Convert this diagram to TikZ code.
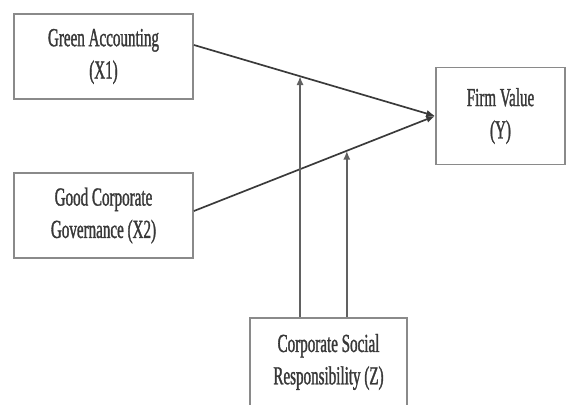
\documentclass[tikz,border=0pt]{standalone}
\usepackage{fontspec}
\setmainfont{Liberation Serif}[FakeStretch=0.58,FakeBold=1.2]
\usetikzlibrary{arrows.meta,calc,positioning}
\definecolor{mdgray}{HTML}{8A8A8A}
\definecolor{mdline}{HTML}{3A3A3A}
\definecolor{mdtext}{HTML}{383838}

\begin{document}
\begin{tikzpicture}[x=0.025cm,y=-0.025cm,
 varbox/.style={draw=mdgray,line width=1.3pt,align=center,inner sep=0pt,text=mdtext,
   font=\fontsize{18.5}{23}\selectfont},
 patharrow/.style={-{Latex[length=2.2mm,width=1.8mm]},line width=1.2pt,draw=mdline},
 modarrow/.style={-{Latex[length=2.2mm,width=1.8mm]},line width=1.2pt,draw=mdgray!70!black}
]
\clip (0,0) rectangle (567,405);
\node[varbox,minimum width=4.475cm,minimum height=2.125cm] (green) at (103.5,56.5) {Green Accounting\\(X1)};
\node[varbox,minimum width=4.475cm,minimum height=2.125cm] (gcg) at (103.5,215.5) {Good Corporate\\Governance (X2)};
\node[varbox,minimum width=3.225cm,minimum height=2.425cm] (firm) at (500.5,116) {Firm Value\\(Y)};
\node[varbox,minimum width=3.925cm,minimum height=2.2cm,anchor=north] (csr) at (328.5,317) {Corporate Social\\Responsibility (Z)};
\coordinate (meet) at (firm.west);
\draw[patharrow] (green.east |- 0,45) coordinate (ga) -- (meet);
\draw[patharrow] (gcg.east |- 0,211) coordinate (gb) -- (meet);
\coordinate (ona) at ($(ga)!0.44!(meet)$);
\coordinate (onb) at ($(gb)!0.634!(meet)$);
\draw[modarrow] (csr.north -| ona) -- (ona);
\draw[modarrow] (csr.north -| onb) -- (onb);
\end{tikzpicture}
\end{document}
